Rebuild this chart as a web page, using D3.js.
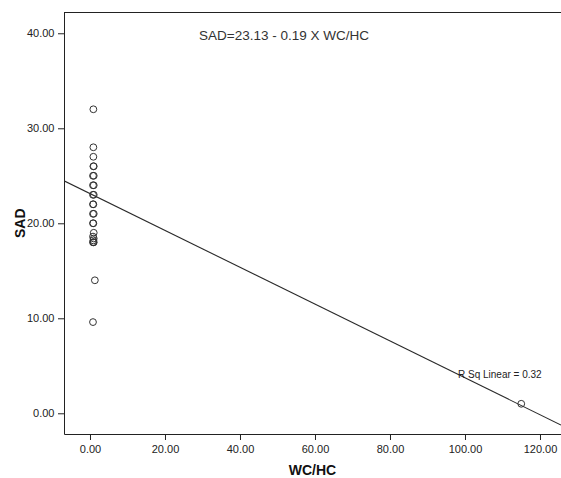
<!DOCTYPE html>
<html>
<head>
<meta charset="utf-8">
<script src="https://cdn.jsdelivr.net/npm/d3@7"></script>
<style>
  body { margin: 0; background: #fff; }
  svg { display: block; font-family: "Liberation Sans", Arial, sans-serif; }
</style>
</head>
<body>
<div id="chart"></div>
<script>
// scatter SAD vs WC/HC with fitted line

const wchc = [0.9, 0.9, 0.9, 0.9, 1.0, 0.8, 1.0, 0.8, 1.0, 0.8, 1.0, 0.8, 0.9, 0.8, 1.0, 0.9, 0.8, 1.0, 0.8, 1.0, 0.9, 0.8, 1.0, 0.9, 1.3, 0.8, 115];
const sad  = [32, 28, 27, 26, 26, 25, 25, 24, 24, 23, 23, 22, 22, 21, 21, 20, 20, 19, 18.6, 18.4, 18.2, 18, 18, 18, 14, 9.6, 1];

const xTicks = [0, 20, 40, 60, 80, 100, 120];
const yTicks = [0, 10, 20, 30, 40];

const fit = { intercept: 23.13, slope: -0.194 };
const equation = "SAD=23.13 - 0.19 X WC/HC";
const rsqLabel = "R Sq Linear = 0.32";

const width = 561, height = 478;
const plot = { left: 64, top: 12, right: 561, bottom: 434 };

const x = d3.scaleLinear().domain([-6.93, 125.6]).range([plot.left, plot.right]);
const y = d3.scaleLinear().domain([-2.18, 42.24]).range([plot.bottom, plot.top]);

const svg = d3.select("#chart").append("svg")
  .attr("width", width)
  .attr("height", height);

// ── frame: top border ──
svg.append("line")
  .attr("x1", plot.left).attr("x2", plot.right)
  .attr("y1", plot.top + 0.5).attr("y2", plot.top + 0.5)
  .attr("stroke", "#222").attr("stroke-width", 1);

// ── axes ──
const fmt = d3.format(".2f");

const xAxis = svg.append("g")
  .attr("transform", `translate(0,${plot.bottom})`)
  .call(d3.axisBottom(x).tickValues(xTicks).tickFormat(fmt).tickSize(6).tickSizeOuter(0));

const yAxis = svg.append("g")
  .attr("transform", `translate(${plot.left},0)`)
  .call(d3.axisLeft(y).tickValues(yTicks).tickFormat(fmt).tickSize(6).tickSizeOuter(0));

[xAxis, yAxis].forEach(ax => {
  ax.select(".domain").attr("stroke", "#222");
  ax.selectAll(".tick line").attr("stroke", "#222");
  ax.selectAll(".tick text")
    .attr("fill", "#222")
    .style("font-size", "11px")
    .style("font-family", "\"Liberation Sans\", Arial, sans-serif");
});
xAxis.selectAll(".tick text").attr("dy", "0.9em");
yAxis.selectAll(".tick text").attr("dx", "-0.05em");

// ── axis titles ──
svg.append("text")
  .attr("x", (plot.left + plot.right) / 2)
  .attr("y", 475)
  .attr("text-anchor", "middle")
  .style("font-size", "14px")
  .style("font-weight", "700")
  .attr("fill", "#111")
  .text("WC/HC");

svg.append("text")
  .attr("transform", `translate(25,${y(20)}) rotate(-90)`)
  .attr("text-anchor", "middle")
  .style("font-size", "14px")
  .style("font-weight", "700")
  .attr("fill", "#111")
  .text("SAD");

// ── fitted line ──
svg.append("clipPath").attr("id", "plot-clip")
  .append("rect")
  .attr("x", plot.left).attr("y", plot.top)
  .attr("width", plot.right - plot.left).attr("height", plot.bottom - plot.top);

const [x0, x1] = x.domain();
svg.append("line")
  .attr("clip-path", "url(#plot-clip)")
  .attr("x1", x(x0)).attr("y1", y(fit.intercept + fit.slope * x0))
  .attr("x2", x(x1)).attr("y2", y(fit.intercept + fit.slope * x1))
  .attr("stroke", "#2a2a2a").attr("stroke-width", 1.1);

// ── points ──
svg.append("g")
  .selectAll("circle")
  .data(d3.zip(wchc, sad))
  .join("circle")
  .attr("cx", d => x(d[0]))
  .attr("cy", d => y(d[1]))
  .attr("r", 3.4)
  .attr("fill", "none")
  .attr("stroke", "#333")
  .attr("stroke-width", 1);

// ── annotations ──
svg.append("text")
  .attr("x", 199)
  .attr("y", 40)
  .style("font-size", "13.5px")
  .attr("fill", "#333")
  .text(equation);

svg.append("text")
  .attr("x", 458)
  .attr("y", 378)
  .style("font-size", "10px")
  .attr("fill", "#222")
  .text(rsqLabel);
</script>
</body>
</html>
